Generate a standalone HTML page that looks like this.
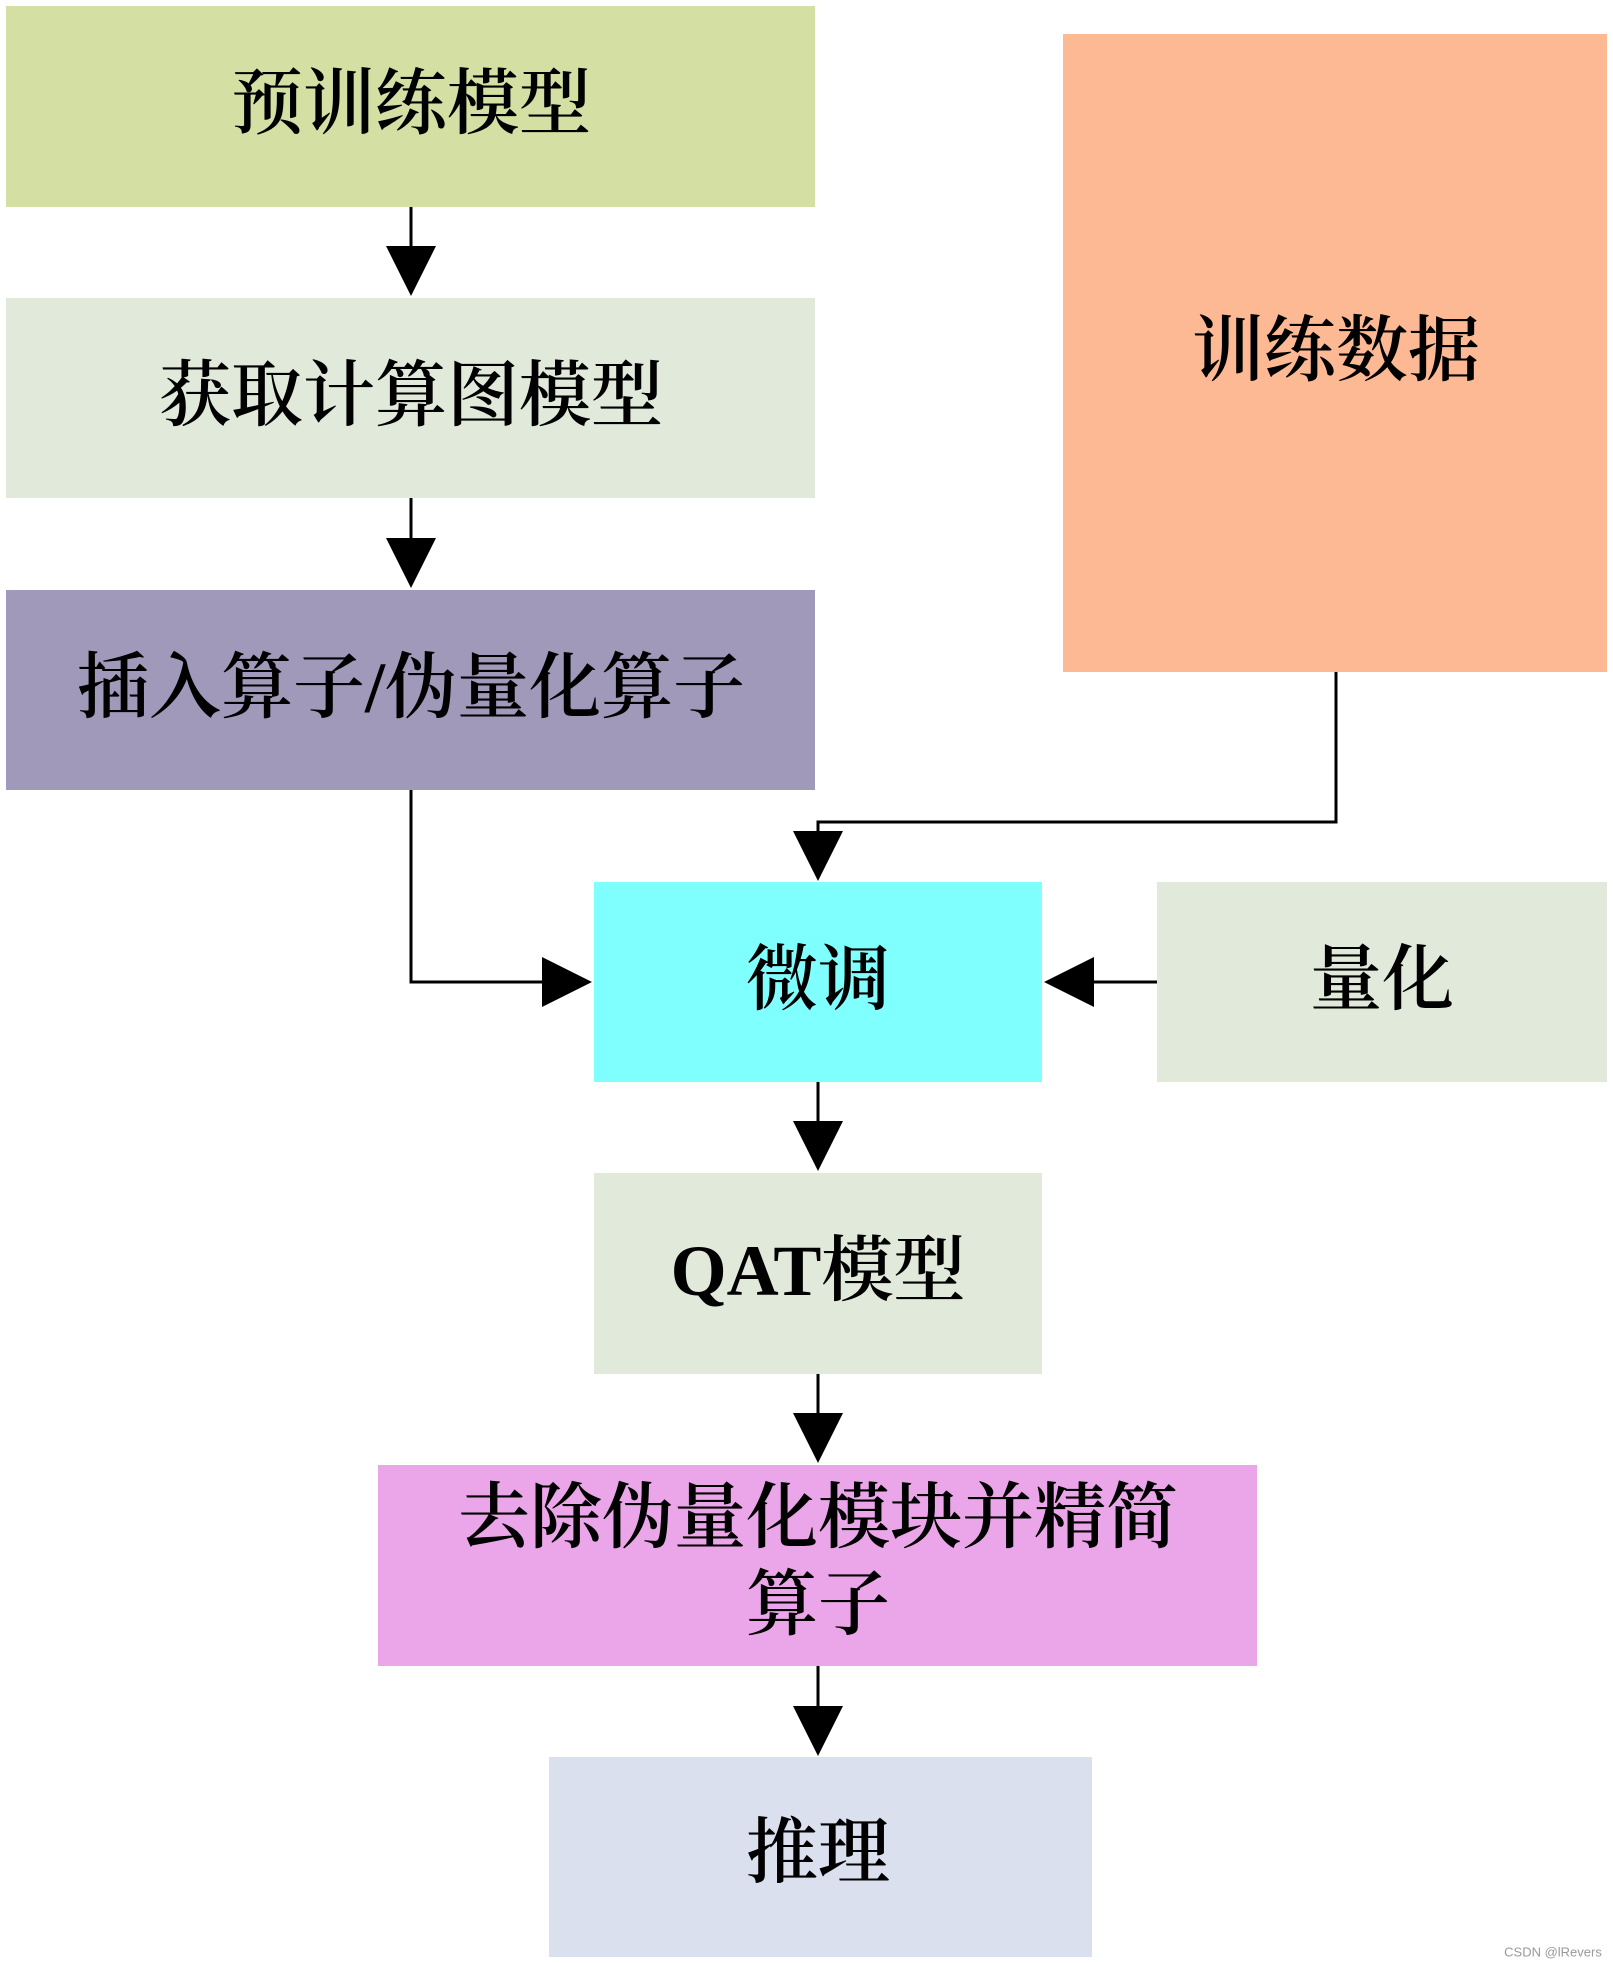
<!DOCTYPE html>
<html><head><meta charset="utf-8"><style>
html,body{margin:0;padding:0;background:#fff;}
svg{display:block}
text{font-family:"Liberation Serif","Noto Serif CJK SC",serif;font-size:72px;font-weight:600;fill:#000;text-anchor:middle;dominant-baseline:central}
</style></head><body>
<svg width="1613" height="1963" viewBox="0 0 1613 1963" xmlns="http://www.w3.org/2000/svg">
<rect x="6" y="6" width="809" height="201" fill="#d3dfa3"/>
<rect x="6" y="298" width="809" height="200" fill="#e0e9da"/>
<rect x="6" y="590" width="809" height="200" fill="#a099ba"/>
<rect x="1063" y="34" width="544" height="638" fill="#fdb993"/>
<rect x="594" y="882" width="448" height="200" fill="#80ffff"/>
<rect x="1157" y="882" width="450" height="200" fill="#e0e9da"/>
<rect x="594" y="1173" width="448" height="201" fill="#e0e9da"/>
<rect x="378" y="1465" width="879" height="201" fill="#eba6e9"/>
<rect x="549" y="1757" width="543" height="200" fill="#dae0ed"/>

<g stroke="#000" stroke-width="3" fill="none">
<line x1="411" y1="207" x2="411" y2="250"/>
<line x1="411" y1="498" x2="411" y2="542"/>
<polyline points="411,790 411,982 546,982"/>
<polyline points="1336,672 1336,822 818,822 818,835"/>
<line x1="1157" y1="982" x2="1090" y2="982"/>
<line x1="818" y1="1082" x2="818" y2="1125"/>
<line x1="818" y1="1374" x2="818" y2="1417"/>
<line x1="818" y1="1666" x2="818" y2="1710"/>
</g>
<g fill="#000">
<polygon points="386,246 436,246 411,296"/>
<polygon points="386,538 436,538 411,588"/>
<polygon points="542,957 542,1007 592,982"/>
<polygon points="793,831 843,831 818,881"/>
<polygon points="1094,957 1094,1007 1044,982"/>
<polygon points="793,1121 843,1121 818,1171"/>
<polygon points="793,1413 843,1413 818,1463"/>
<polygon points="793,1706 843,1706 818,1756"/>
</g>

<text x="411" y="104">预训练模型</text>
<text x="411" y="396">获取计算图模型</text>
<text x="411" y="688">插入算子/伪量化算子</text>
<text x="1336" y="351">训练数据</text>
<text x="818" y="980">微调</text>
<text x="1382" y="980">量化</text>
<text x="818" y="1271">QAT模型</text>
<text x="818" y="1518">去除伪量化模块并精简</text>
<text x="818" y="1605">算子</text>
<text x="818" y="1853">推理</text>
<text x="1553" y="1952" style="font-family:'Liberation Sans',sans-serif;font-size:13px;font-weight:normal;fill:#999">CSDN @lRevers</text>
</svg>
</body></html>
